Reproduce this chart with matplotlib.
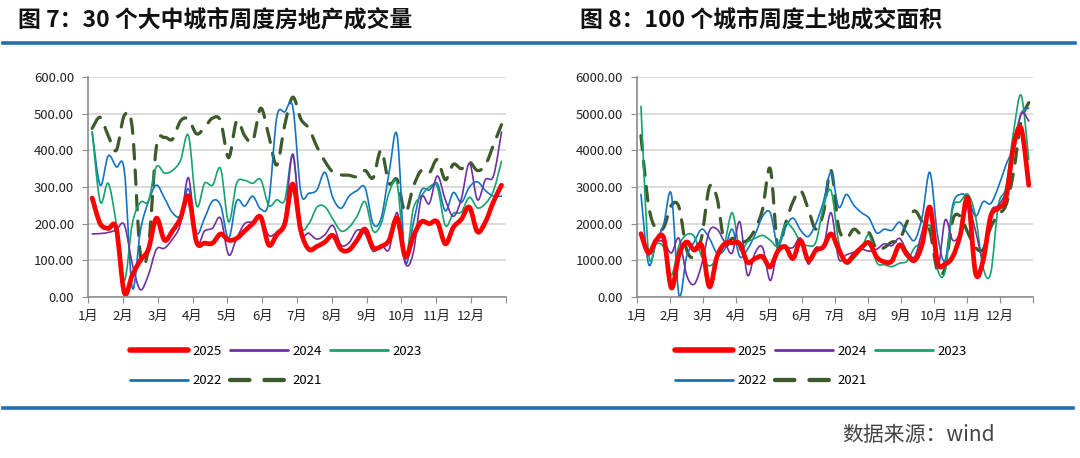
import numpy as np
import matplotlib
matplotlib.use("Agg")
import matplotlib.pyplot as plt
from matplotlib.path import Path
from matplotlib.patches import PathPatch
from matplotlib.lines import Line2D

plt.rcParams['font.family'] = ['Noto Sans CJK SC', 'DejaVu Sans']

MONTHS = ["1月", "2月", "3月", "4月", "5月", "6月", "7月", "8月", "9月", "10月", "11月", "12月"]
YEARS = ["2025", "2024", "2023", "2022", "2021"]

# 图7：30个大中城市周度房地产成交量（万平方米），52周
HOUSE_2025 = [270, 200, 187, 187, 12, 60, 100, 130, 215, 155, 180, 215, 275, 150, 147, 147,
              172, 155, 160, 180, 200, 218, 142, 170, 200, 308, 180, 130, 138, 150, 168, 130,
              128, 155, 185, 135, 138, 155, 215, 110, 165, 205, 200, 205, 145, 190, 212, 245,
              178, 205, 260, 305]
HOUSE_2024 = [172, 173, 176, 183, 197, 90, 20, 60, 130, 133, 158, 200, 325, 150, 180, 188,
              215, 115, 160, 200, 205, 215, 168, 178, 215, 390, 185, 174, 158, 170, 195, 142,
              148, 182, 172, 125, 142, 130, 230, 92, 120, 270, 255, 330, 265, 220, 268, 365,
              265, 320, 330, 450]
HOUSE_2023 = [450, 260, 310, 200, 45, 200, 258, 262, 355, 338, 345, 372, 440, 250, 310, 305,
              350, 205, 310, 318, 310, 320, 250, 265, 265, 385, 197, 200, 245, 246, 212, 180,
              190, 220, 260, 180, 200, 285, 308, 105, 240, 275, 300, 300, 195, 228, 232, 272,
              243, 255, 290, 370]
HOUSE_2022 = [450, 305, 385, 355, 345, 25, 180, 260, 305, 270, 230, 222, 295, 175, 215, 262,
              250, 160, 262, 248, 275, 240, 260, 490, 505, 518, 285, 283, 292, 340, 270, 242,
              275, 290, 298, 200, 215, 340, 440, 100, 200, 290, 292, 310, 235, 285, 258, 300,
              314, 290, 275, 275]
HOUSE_2021 = [460, 490, 440, 400, 495, 460, 115, 135, 410, 435, 430, 480, 485, 445, 462, 488,
              480, 380, 480, 440, 425, 515, 440, 360, 470, 545, 485, 460, 410, 370, 340, 333,
              332, 328, 345, 325, 400, 310, 320, 230, 300, 345, 338, 375, 320, 362, 350, 368,
              345, 360, 415, 470]

# 图8：100个城市周度土地成交面积（万平方米），52周
LAND_2025 = [1727, 1200, 1550, 1600, 250, 1150, 1500, 1280, 1400, 280, 1100, 1450, 1480, 1450,
             950, 1050, 1100, 820, 1250, 1370, 1050, 1540, 1000, 1270, 1370, 1720, 1300, 950,
             1150, 1350, 1480, 1090, 960, 980, 1420, 1150, 1000, 1450, 2450, 950, 900, 1100,
             1700, 2700, 650, 1000, 2200, 2420, 2700, 4100, 4600, 3050]
LAND_2024 = [1650, 1250, 1500, 1500, 1200, 1600, 600, 350, 900, 1800, 1850, 1500, 1200, 2050,
             600, 1200, 1350, 450, 1300, 1350, 1350, 1600, 900, 1350, 1350, 2300, 1050, 1150,
             1220, 1300, 1250, 1300, 1450, 1400, 1600, 1250, 1100, 1800, 2450, 800, 2100, 1550,
             1750, 2500, 1800, 1100, 2300, 2500, 2900, 4000, 5000, 4800]
LAND_2023 = [5200, 1200, 1450, 1350, 600, 1400, 1700, 1650, 1100, 850, 1050, 1450, 2300, 1300,
             1500, 1600, 1680, 1550, 1400, 2000, 1850, 1500, 1400, 1500, 2450, 2900, 1500, 920,
             1050, 1300, 1700, 950, 880, 830, 920, 980, 1350, 1500, 1950, 750, 700, 2400,
             2600, 2800, 2200, 800, 650, 2500, 3000, 4500, 5500, 3750]
LAND_2022 = [2800, 900, 1500, 2000, 2800, 50, 1100, 1500, 1850, 1600, 1200, 1300, 1850, 1100,
             1300, 1700, 2200, 2300, 1400, 1900, 2150, 1820, 1650, 2000, 2600, 3400, 2450, 2800,
             2500, 2300, 2150, 1750, 1850, 1820, 2040, 1750, 1550, 2200, 3400, 1700, 1000, 2500,
             2800, 2700, 2200, 2600, 2550, 3000, 3600, 4100, 5000, 5150]
LAND_2021 = [4400, 2500, 1850, 1900, 2500, 2450, 1300, 1100, 1650, 3000, 2700, 1450, 1600, 1500,
             1550, 1850, 2400, 3500, 1350, 2000, 2600, 2900, 2400, 1850, 2300, 3450, 1900, 1600,
             1850, 1700, 1750, 1300, 1350, 1500, 1550, 2050, 2350, 2050, 1800, 700, 800, 2100,
             2200, 1750, 1350, 1300, 1900, 2250, 2500, 3400, 4800, 5300]

STYLES = {
    "2025": dict(color="#FF0000", lw=3.4, ls="-"),
    "2024": dict(color="#7030A0", lw=1.2, ls="-"),
    "2023": dict(color="#13A36B", lw=1.2, ls="-"),
    "2022": dict(color="#1273C4", lw=1.2, ls="-"),
    "2021": dict(color="#3C5A2A", lw=2.3, ls=(0, (4.5, 3.5))),
}
DRAW_ORDER = ["2021", "2022", "2023", "2024", "2025"]


def smooth_path(x, y):
    # excel style smoothed line: catmull-rom turned into cubic bezier segments
    pts = np.column_stack([x, y]).astype(float)
    n = len(pts)
    verts = [pts[0]]
    codes = [Path.MOVETO]
    for i in range(n - 1):
        p0 = pts[i - 1] if i > 0 else pts[i]
        p1 = pts[i]
        p2 = pts[i + 1]
        p3 = pts[i + 2] if i + 2 < n else pts[i + 1]
        verts += [p1 + (p2 - p0) / 6, p2 - (p3 - p1) / 6, p2]
        codes += [Path.CURVE4] * 3
    return Path(verts, codes)


def draw_panel(ax, series, ymax, ystep):
    x = 0.12 + np.arange(52) * 12 / 52.08
    for yr in DRAW_ORDER:
        st = STYLES[yr]
        ax.add_patch(PathPatch(smooth_path(x, series[yr]), fill=False, edgecolor=st["color"],
                               lw=st["lw"], linestyle=st["ls"], capstyle="round", joinstyle="round"))
    ax.set_xlim(0, 12)
    ax.set_ylim(0, ymax)
    ax.set_xticks(range(13))
    ax.set_xticklabels(MONTHS + [""], fontsize=9.5)
    yt = np.arange(0, ymax + 1, ystep)
    ax.set_yticks(yt)
    ax.set_yticklabels(["%.2f" % v for v in yt], fontsize=9.5, color="#222222")
    ax.yaxis.grid(True, color="#D9D9D9", lw=1.3)
    ax.set_axisbelow(True)
    for s in ["top", "right"]:
        ax.spines[s].set_visible(False)
    for s in ["left", "bottom"]:
        ax.spines[s].set_color("#8C8C8C")
        ax.spines[s].set_linewidth(1.2)
    ax.tick_params(axis="x", length=4, color="#8C8C8C", pad=5, labelcolor="#222222")
    ax.tick_params(axis="y", length=4, color="#8C8C8C", pad=6)


def add_legend(fig, x0, y0):
    # legend fills column by column, so order the handles to read row by row
    order = ["2025", "2022", "2024", "2021", "2023"]
    handles = []
    for yr in order:
        st = STYLES[yr]
        handles.append(Line2D([], [], color=st["color"], lw=st["lw"] + (0.8 if yr != "2025" else 0.6),
                              ls=st["ls"], solid_capstyle="round", dash_capstyle="round"))
    fig.legend(handles, order, loc="upper left", bbox_to_anchor=(x0, y0), ncol=3,
               frameon=False, fontsize=9.5, handlelength=4.4, handletextpad=0.35,
               columnspacing=0.6, labelspacing=1.25, borderpad=0, borderaxespad=0)


fig = plt.figure(figsize=(10.8, 4.58), dpi=100)
W, H = 1080, 458

ax1 = fig.add_axes([88 / W, 1 - 297 / H, 418 / W, 220 / H])
draw_panel(ax1, {"2025": HOUSE_2025, "2024": HOUSE_2024, "2023": HOUSE_2023,
                 "2022": HOUSE_2022, "2021": HOUSE_2021}, 600, 100)

ax2 = fig.add_axes([637 / W, 1 - 297 / H, 396 / W, 220 / H])
draw_panel(ax2, {"2025": LAND_2025, "2024": LAND_2024, "2023": LAND_2023,
                 "2022": LAND_2022, "2021": LAND_2021}, 6000, 1000)

fig.text(18 / W, 1 - 20 / H, "图 7：30 个大中城市周度房地产成交量", fontsize=16.5,
         fontweight="bold", va="center", ha="left", color="#111111")
fig.text(580 / W, 1 - 20 / H, "图 8：100 个城市周度土地成交面积", fontsize=16.5,
         fontweight="bold", va="center", ha="left", color="#111111")

fig.add_artist(Line2D([3 / W, 1075 / W], [1 - 43 / H, 1 - 43 / H], color="#1F6FB2", lw=2.6))
fig.add_artist(Line2D([3 / W, 1073 / W], [1 - 408 / H, 1 - 408 / H], color="#1F6FB2", lw=2.6))

add_legend(fig, 130 / W, 1 - 345 / H)
add_legend(fig, 675 / W, 1 - 345 / H)

fig.text(995 / W, 1 - 435 / H, "数据来源：wind", fontsize=15, color="#444444",
         ha="right", va="center")

fig.savefig("out.png", dpi=100)
